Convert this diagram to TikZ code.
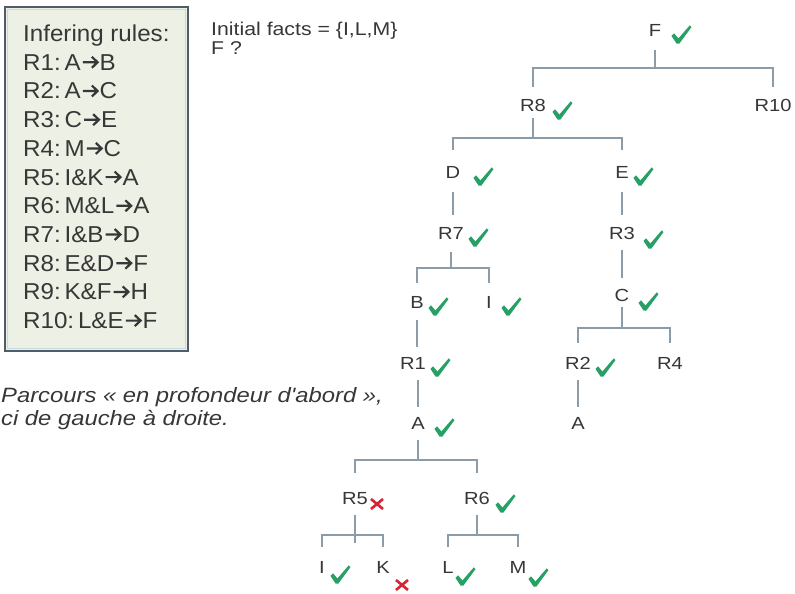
\documentclass[tikz,border=0pt]{standalone}
\usepackage{fontspec}
\setmainfont{Liberation Sans}
\newfontfamily\widesans[FakeStretch=1.15]{Liberation Sans}
\newfontfamily\rulesans[FakeStretch=1.05]{Liberation Sans}
\usetikzlibrary{calc}

\definecolor{ink}{RGB}{55,55,55}
\definecolor{wire}{RGB}{140,155,168}
\definecolor{okgreen}{RGB}{38,160,100}
\definecolor{nored}{RGB}{215,35,50}
\definecolor{panel}{RGB}{237,240,228}
\definecolor{frame}{RGB}{80,92,104}
\definecolor{frameinner}{RGB}{195,218,228}

% heavy arrow used in the rule list
\newcommand\implies{\hspace{1pt}\tikz[baseline=0pt, x=1pt, y=1pt]
  \draw[ink, line width=2.2pt, line join=miter] (0,8) -- (14,8) (9,13.5) -- (14.8,8) -- (9,2.5);\hspace{1pt}}

\tikzset{
  lbl/.style={font=\widesans\fontsize{17.5}{20}\selectfont, text=ink,
    inner sep=0pt, text height=12.5pt, text depth=0pt},
  rule/.style={font=\rulesans\fontsize{23}{28}\selectfont, text=ink, inner sep=0pt, anchor=base west},
  note/.style={font=\widesans\fontsize{18.5}{22}\selectfont, text=ink, inner sep=0pt, anchor=base west},
  remark/.style={font=\widesans\itshape\fontsize{20.7}{24}\selectfont, text=ink, inner sep=0pt, anchor=base west},
  link/.style={draw=wire, line width=1.4pt},
  chk/.pic={\fill[okgreen, scale=0.87] (-11,1) -- (-8,-2) -- (-3,4) -- (10,-11) -- (12,-9) -- (-2,10) -- (-5,10) -- cycle;},
  nok/.pic={\draw[nored, line width=2.6pt] (-6,-5) -- (6,5) (-6,5) -- (6,-5);},
}

\begin{document}
\begin{tikzpicture}[x=1pt,y=-1pt]
\useasboundingbox (0,0) rectangle (795,594);
\fill[white] (0,0) rectangle (795,594);

% rules panel
\draw[frame, fill=panel, line width=2.2pt] (5,7) rectangle (188,351);
\draw[frameinner, line width=0.8pt] (7.5,9.5) rectangle (185.5,348.5);
\foreach \t [count=\i from 0] in {Infering rules:, R1:\,A\implies B, R2:\,A\implies C,
    R3:\,C\implies E, R4:\,M\implies C, R5:\,I\&K\implies A, R6:\,M\&L\implies A,
    R7:\,I\&B\implies D, R8:\,E\&D\implies F, R9:\,K\&F\implies H, R10:\,L\&E\implies F}
  \node[rule] (rule\i) at (23, 41.6+28.7*\i) {\t};

% question
\node[note] (facts) at (211, 36) {Initial facts = \{I,L,M\}};
\node[note] (goal) at (211, 55) {F ?};

% traversal remark
\node[remark] (remark1) at (1, 402) {Parcours « en profondeur d'abord »,};
\node[remark] (remark2) at (1, 425) {ci de gauche à droite.};

% tree labels
\node[lbl] (F) at (655,30) {F};
\node[lbl] (R8) at (533,105) {R8};
\node[lbl] (R10) at (773,105) {R10};
\node[lbl] (D) at (453,172) {D};
\node[lbl] (E) at (622,172) {E};
\node[lbl] (R7) at (451,233) {R7};
\node[lbl] (R3) at (622,233) {R3};
\node[lbl] (B) at (417,302) {B};
\node[lbl] (Ib) at (489,302) {I};
\node[lbl] (C) at (622,295) {C};
\node[lbl] (R1) at (413,363) {R1};
\node[lbl] (R2) at (578,363) {R2};
\node[lbl] (R4) at (670,363) {R4};
\node[lbl] (A) at (418,423) {A};
\node[lbl] (Ar) at (578,423) {A};
\node[lbl] (R5) at (355,498) {R5};
\node[lbl] (R6) at (477,498) {R6};
\node[lbl] (Ia) at (322,567) {I};
\node[lbl] (K) at (383,567) {K};
\node[lbl] (L) at (448,567) {L};
\node[lbl] (M) at (518,567) {M};

% marks
\pic at (681,35) {chk};
\pic at (562,111) {chk};
\pic at (483,177) {chk};
\pic at (643,177) {chk};
\pic at (478,238) {chk};
\pic at (653,240) {chk};
\pic at (438,307) {chk};
\pic at (511,307) {chk};
\pic at (648,302) {chk};
\pic at (440,368) {chk};
\pic at (605,368) {chk};
\pic at (444,428) {chk};
\pic at (505,504) {chk};
\pic at (340,575) {chk};
\pic at (465,577) {chk};
\pic at (538,578) {chk};
\pic at (377,504) {nok};
\pic at (402,585) {nok};

% branch bars
\coordinate (barF) at (656,68);
\coordinate (barR8) at (534,138);
\coordinate (barR7) at (452,268);
\coordinate (barC) at (623,328);
\coordinate (barA) at (419,460);
\coordinate (barR5) at (356,535);
\coordinate (barR6) at (478,535);

% connectors
\draw[link, shorten <=14pt] (F.south) -- (F.south |- barF);
\draw[link, shorten <=12pt, shorten >=12pt] (R8.north) |- (barF) -| (R10.north);

\draw[link, shorten <=7pt] (R8.south) -- (R8.south |- barR8);
\draw[link, shorten <=16pt, shorten >=16pt] (D.north) |- (barR8) -| (E.north);

\draw[link, shorten <=14pt, shorten >=12pt] (D.south) -- (D.south |- R7.north);
\draw[link, shorten <=14pt, shorten >=12pt] (E.south) -- (E.south |- R3.north);

\draw[link, shorten <=13pt] (R7.south) -- (R7.south |- barR7);
\draw[link, shorten <=13pt, shorten >=13pt] (B.north) |- (barR7) -| (Ib.north);

\draw[link, shorten <=12pt, shorten >=10pt] (B.south) -- (B.south |- R1.north);
\draw[link, shorten <=11pt, shorten >=10pt] (A.north |- R1.south) -- (A.north);

\draw[link, shorten <=11pt, shorten >=11pt] (R3.south) -- (R3.south |- C.north);
\draw[link, shorten <=6pt] (C.south) -- (C.south |- barC);
\draw[link, shorten <=14pt, shorten >=14pt] (R2.north) |- (barC) -| (R4.north);
\draw[link, shorten <=11pt, shorten >=10pt] (R2.south) -- (R2.south |- Ar.north);

\draw[link, shorten <=11pt] (A.south) -- (A.south |- barA);
\draw[link, shorten <=19pt, shorten >=19pt] (R5.north) |- (barA) -| (R6.north);

\draw[link, shorten <=11pt] (R5.south) -- ([yshift=-8pt]R5.south |- barR5);
\draw[link, shorten <=14pt, shorten >=14pt] (Ia.north) |- (barR5) -| (K.north);
\draw[link, shorten <=11pt] (R6.south) -- (R6.south |- barR6);
\draw[link, shorten <=14pt, shorten >=14pt] (L.north) |- (barR6) -| (M.north);
\end{tikzpicture}
\end{document}
